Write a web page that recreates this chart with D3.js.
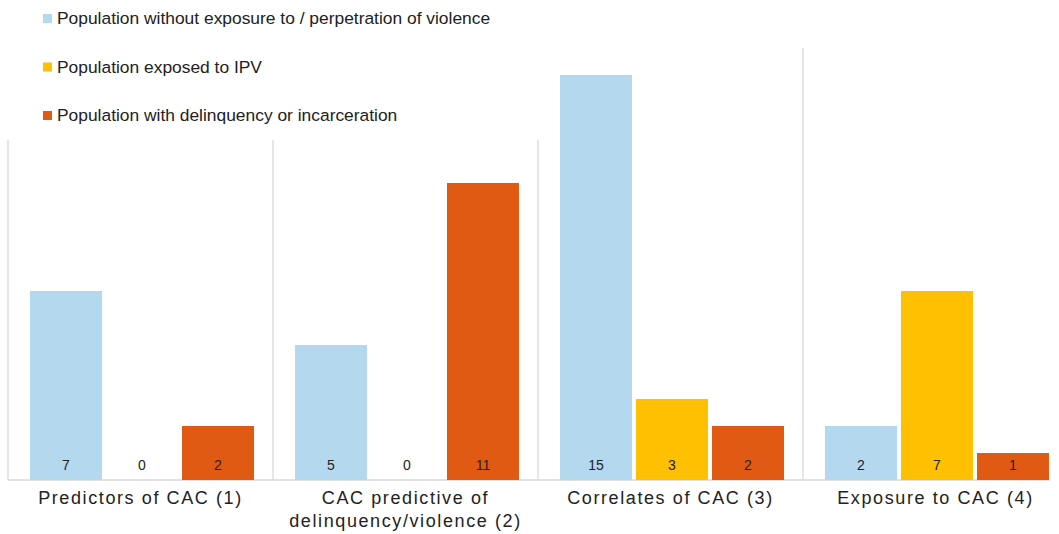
<!DOCTYPE html>
<html>
<head>
<meta charset="utf-8">
<script src="https://cdn.jsdelivr.net/npm/d3@7"></script>
<style>
	body { margin: 0; background: #fff; }
	svg text { font-family: "Liberation Sans", Arial, sans-serif; }
</style>
</head>
<body>
<div id="chart"></div>
<script>
// Grouped bar chart (D3 v7)

const categories = [
	['Predictors of CAC (1)'],
	['CAC predictive of', 'delinquency/violence (2)'],
	['Correlates of CAC (3)'],
	['Exposure to CAC (4)']
];
const seriesNames = [
	'Population without exposure to / perpetration of violence',
	'Population exposed to IPV',
	'Population with delinquency or incarceration'
];
const noViolence = [7, 5, 15, 2];
const exposedIPV = [0, 0, 3, 7];
const delinquency = [2, 11, 2, 1];

const width = 1059;
const height = 534;
const baseY = 480;

const colors = ['#b4d8ee', '#fec000', '#e05a13'];

const svg = d3.select('#chart')
	.append('svg')
	.attr('width', width)
	.attr('height', height);

const groups = categories.map((c, i) => ({
	key: 'g' + i,
	lines: c,
	values: [noViolence[i], exposedIPV[i], delinquency[i]]
}));

const x0 = d3.scaleBand()
	.domain(groups.map(d => d.key))
	.range([8, 8 + 4 * 265]);

const x1 = d3.scaleBand()
	.domain(d3.range(seriesNames.length))
	.range([22, 246])
	.paddingInner(0.053);

const y = d3.scaleLinear()
	.domain([0, 15])
	.range([baseY, 75]);

// group separators
svg.append('g')
	.selectAll('line')
	.data(groups)
	.enter()
	.append('line')
	.attr('x1', d => x0(d.key))
	.attr('x2', d => x0(d.key))
	.attr('y1', 48)
	.attr('y2', baseY)
	.attr('stroke', '#d9d9d9')
	.attr('stroke-width', 1.3);

// baseline
svg.append('line')
	.attr('x1', 8)
	.attr('x2', 1050)
	.attr('y1', baseY)
	.attr('y2', baseY)
	.attr('stroke', '#d9d9d9')
	.attr('stroke-width', 1.3);

const gGroups = svg.selectAll('.group')
	.data(groups)
	.enter()
	.append('g')
	.attr('class', 'group')
	.attr('transform', d => `translate(${x0(d.key)},0)`);

gGroups.selectAll('rect')
	.data(d => d.values)
	.enter()
	.append('rect')
	.attr('x', (v, i) => x1(i))
	.attr('y', v => y(v))
	.attr('width', x1.bandwidth())
	.attr('height', v => baseY - y(v))
	.attr('fill', (v, i) => colors[i]);

// value labels at the bottom of each bar
gGroups.selectAll('.val')
	.data(d => d.values)
	.enter()
	.append('text')
	.attr('class', 'val')
	.attr('x', (v, i) => x1(i) + x1.bandwidth() / 2)
	.attr('y', baseY - 10)
	.attr('text-anchor', 'middle')
	.style('font-size', '14px')
	.attr('fill', '#222')
	.text(v => v);

// category labels
gGroups.append('text')
	.attr('x', x0.bandwidth() / 2)
	.attr('y', 504)
	.attr('text-anchor', 'middle')
	.style('font-size', '18px')
	.style('letter-spacing', '1.6px')
	.attr('fill', '#222')
	.selectAll('tspan')
	.data(d => d.lines)
	.enter()
	.append('tspan')
	.attr('x', x0.bandwidth() / 2)
	.attr('dy', (d, i) => i === 0 ? 0 : 23)
	.text(d => d);

// legend box (white, covers separator tops)
const legend = svg.append('g').attr('class', 'legend');
legend.append('rect')
	.attr('x', 0)
	.attr('y', 0)
	.attr('width', 545)
	.attr('height', 140)
	.attr('fill', '#fff');

const legendItem = legend.selectAll('.legendItem')
	.data(seriesNames)
	.enter()
	.append('g')
	.attr('class', 'legendItem')
	.attr('transform', (d, i) => `translate(43, ${14 + i * 48.5})`);

legendItem.append('rect')
	.attr('width', 9)
	.attr('height', 9)
	.attr('fill', (d, i) => colors[i]);

legendItem.append('text')
	.attr('x', 14)
	.attr('y', 10)
	.style('font-size', '17.4px')
	.attr('fill', '#222')
	.text(d => d);
</script>
</body>
</html>
